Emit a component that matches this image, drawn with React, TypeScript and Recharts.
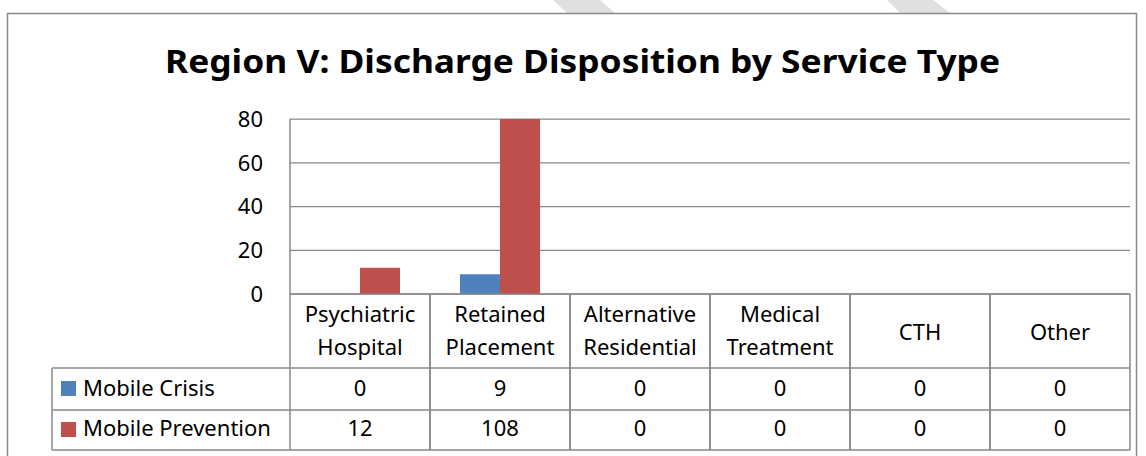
import { BarChart, Bar, XAxis, YAxis, CartesianGrid } from "recharts";

const categories = [
  "Psychiatric Hospital",
  "Retained Placement",
  "Alternative Residential",
  "Medical Treatment",
  "CTH",
  "Other",
];
const mobileCrisis = [0, 9, 0, 0, 0, 0];
const mobilePrevention = [12, 108, 0, 0, 0, 0];
const seriesNames = ["Mobile Crisis", "Mobile Prevention"];
const yTicks = [0, 20, 40, 60, 80];

const BLUE = "#4F81BD";
const RED = "#C0504D";
const LINE = "#898989";
const FONT = "'Noto Sans', 'Open Sans', sans-serif";

const data = categories.map((c, i) => ({
  name: c,
  crisis: mobileCrisis[i],
  prevention: mobilePrevention[i],
}));

// header cell + value cells for one category column of the data table
function TableTick(props: any) {
  const { x, y, payload, index } = props;
  const half = 70;
  const lines = String(payload.value).split(" ");
  const top = y;
  const txt = { textAnchor: "middle" as const, fontSize: 22, fontFamily: FONT, fill: "#000" };
  return (
    <g>
      <line x1={x - half} x2={x - half} y1={top} y2={top + 156} stroke={LINE} strokeWidth={1.5} />
      <line x1={x + half} x2={x + half} y1={top} y2={top + 156} stroke={LINE} strokeWidth={1.5} />
      {lines.length === 1 ? (
        <text x={x} y={top + 46} {...txt}>
          {lines[0]}
        </text>
      ) : (
        lines.map((l, k) => (
          <text key={k} x={x} y={top + 28 + k * 33} {...txt}>
            {l}
          </text>
        ))
      )}
      <text x={x} y={top + 102} {...txt}>
        {mobileCrisis[index]}
      </text>
      <text x={x} y={top + 142} {...txt}>
        {mobilePrevention[index]}
      </text>
    </g>
  );
}

export default function App() {
  return (
    <div style={{ position: "absolute", left: 0, top: 0, width: 1146, height: 456, background: "#fff", overflow: "hidden" }}>
      <svg width={1146} height={456} style={{ position: "absolute", left: 0, top: 0 }}>
        {/* page watermark peeking above the chart frame */}
        <polygon points="553,0 600,0 615,13 567,13" fill="#e0e0e0" />
        <polygon points="887,0 933,0 950,13 900,13" fill="#e0e0e0" />
        <rect x={7.5} y={13.5} width={1129} height={460} fill="#fff" stroke={LINE} strokeWidth={1.5} />
        <text
          x={165}
          y={73}
          fontSize={32}
          fontWeight="bold"
          fontFamily={FONT}
          textLength={835}
          lengthAdjust="spacingAndGlyphs"
          fill="#000"
        >
          Region V: Discharge Disposition by Service Type
        </text>
      </svg>
      <div style={{ position: "absolute", left: 0, top: 0 }}>
        <BarChart
          width={1146}
          height={456}
          data={data}
          margin={{ top: 119, right: 16, bottom: 6, left: 230 }}
          barCategoryGap={30}
          barGap={0}
        >
          <CartesianGrid vertical={false} stroke={LINE} strokeWidth={1.25} />
          <XAxis
            dataKey="name"
            height={156}
            tickLine={false}
            tickSize={0}
            tickMargin={0}
            axisLine={{ stroke: LINE, strokeWidth: 1.5 }}
            tick={<TableTick />}
            interval={0}
          />
          <YAxis
            width={60}
            domain={[0, 80]}
            ticks={yTicks}
            allowDataOverflow
            tickLine={false}
            tickSize={0}
            tickMargin={27}
            axisLine={{ stroke: LINE, strokeWidth: 1.5 }}
            tick={{ fontSize: 22, fill: "#000", fontFamily: FONT }}
          />
          <Bar dataKey="crisis" name={seriesNames[0]} fill={BLUE} isAnimationActive={false} />
          <Bar dataKey="prevention" name={seriesNames[1]} fill={RED} isAnimationActive={false} />
        </BarChart>
      </div>
      <svg width={1146} height={456} style={{ position: "absolute", left: 0, top: 0, pointerEvents: "none" }}>
        <line x1={52} x2={1130} y1={368} y2={368} stroke={LINE} strokeWidth={1.5} />
        <line x1={52} x2={1130} y1={410} y2={410} stroke={LINE} strokeWidth={1.5} />
        <line x1={52} x2={1130} y1={450} y2={450} stroke={LINE} strokeWidth={1.5} />
        <line x1={52} x2={52} y1={368} y2={450} stroke={LINE} strokeWidth={1.5} />
        <rect x={61} y={381} width={15} height={15} fill={BLUE} />
        <rect x={61} y={422} width={15} height={15} fill={RED} />
        <text x={83} y={396} fontSize={22} fontFamily={FONT} fill="#000">
          {seriesNames[0]}
        </text>
        <text x={83} y={436} fontSize={22} fontFamily={FONT} fill="#000">
          {seriesNames[1]}
        </text>
      </svg>
    </div>
  );
}
